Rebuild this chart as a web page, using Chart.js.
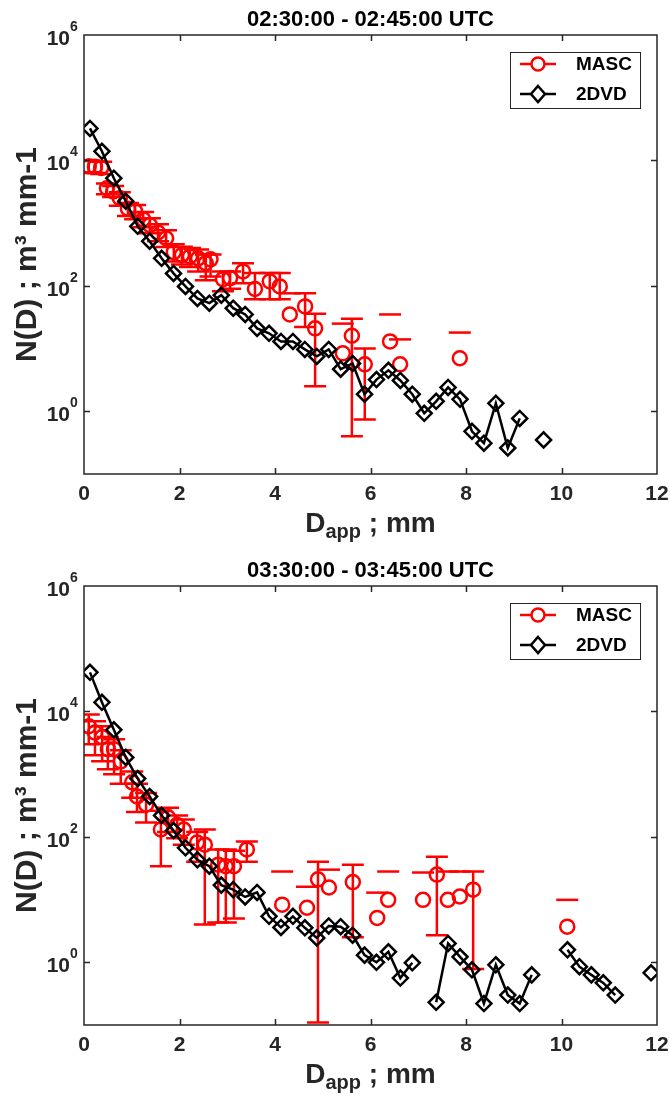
<!DOCTYPE html>
<html><head><meta charset="utf-8">
<script src="https://cdn.jsdelivr.net/npm/chart.js@4/dist/chart.umd.min.js"></script>
<style>
body{margin:0;background:#fff;width:670px;height:1102px;overflow:hidden;position:relative}
.w{position:absolute;left:0;width:670px;height:551px}
canvas{display:block}
</style>
</head><body>
<div class="w" style="top:0"><canvas id="c1" width="670" height="551"></canvas></div>
<div class="w" style="top:551px"><canvas id="c2" width="670" height="551"></canvas></div>
<script>
// ---- data ----
const titles = ['02:30:00 - 02:45:00 UTC', '03:30:00 - 03:45:00 UTC'];
const xTicks = [0, 2, 4, 6, 8, 10, 12];
const yTickVals = [1, 100, 10000, 1000000];
const yTickExp = ['0', '2', '4', '6'];
const seriesNames = ['MASC', '2DVD'];

// 2DVD bin centres (mm)
const dvdD = [0.125,0.375,0.625,0.875,1.125,1.375,1.625,1.875,2.125,2.375,2.625,2.875,3.125,3.375,3.625,3.875,
  4.125,4.375,4.625,4.875,5.125,5.375,5.625,5.875,6.125,6.375,6.625,6.875,7.125,7.375,7.625,7.875,
  8.125,8.375,8.625,8.875,9.125,9.375,9.625,9.875,10.125,10.375,10.625,10.875,11.125,11.375,11.625,11.875];

// panel 1: 2DVD
const dvd1N = [32400,14000,5200,2240,890,515,275,158,98,63,53,71,44,35,21,17.5,13,13,9.7,7.5,9.7,4.7,5.8,1.87,
  3.2,4.5,3.1,1.87,0.93,1.44,2.4,1.55,0.48,0.31,1.34,0.26,0.77,null,0.35];
// panel 1: MASC
const masc1D  = [0.10,0.23,0.36,0.48,0.61,0.75,0.92,1.07,1.24,1.38,1.55,1.72,1.88,2.05,2.22,2.39,2.55,2.65,2.91,3.06,3.33,3.58,3.89,4.10,4.31,4.63,4.84,5.42,5.61,5.88,6.41,6.62,7.87];
const masc1N  = [8100,7900,7600,3600,3200,2500,1700,1550,1150,930,710,575,345,310,295,275,230,265,128,133,170,89,118,98,35,47,21,8.4,16,5.6,13,5.6,7];
const masc1Hi = [10000,9800,9500,4300,3900,3100,2100,1950,1500,1200,960,770,460,420,400,380,315,315,170,170,230,160,160,160,76,76,36,25,30,10,35,14,18];
const masc1Lo = [6500,6300,6100,2900,2600,1900,1300,1150,860,690,515,415,245,220,200,170,123,141,82,90,110,61,61,61,null,22,2.5,null,0.4,0.74,null,null,null];

// panel 2: 2DVD
const dvd2N = [42000,14000,5100,1850,850,440,220,126,67,43,34,17,14.4,11,13,5.4,3.6,5.4,3.55,2.45,3.8,3.7,2.7,1.3,
  1.0,1.47,0.56,0.98,null,0.23,2.0,1.22,0.76,0.22,0.91,0.30,0.22,0.63,null,null,1.58,0.85,0.63,0.47,0.30,null,null,0.68];
// panel 2: MASC
const masc2D  = [0.10,0.23,0.38,0.50,0.63,0.77,1.01,1.11,1.30,1.61,1.76,1.95,2.09,2.37,2.53,2.81,2.97,3.14,3.41,4.15,4.67,4.90,5.13,5.63,6.14,6.37,7.10,7.39,7.62,7.87,8.15,10.12];
const masc2N  = [5800,4600,3900,2500,2500,1600,740,440,325,131,205,155,131,81,75,36,34,34,63,8.3,7.4,21,15.6,19,5.1,9.9,9.9,25,9.9,11.2,14.4,3.7];
const masc2Hi = [8900,7000,5800,3900,3600,2400,1100,700,500,260,290,220,190,120,131,63,63,60,84,28,16,40,30,36,12.9,28,27,48,28,28,28,9.9];
const masc2Lo = [3000,2000,1600,1200,1000,700,420,250,170,34,120,95,75,40,4.0,4.3,4.3,5,40,null,null,0.11,null,2.5,null,null,null,2.7,null,null,0.78,null];

// ---- drawing ----
const FONT = "'Liberation Sans', Arial, Helvetica, sans-serif";
const AX = '#262626';
Chart.defaults.font.family = FONT;
Chart.defaults.color = AX;

function makeChart(id, title, dvdN, mD, mN, mHi, mLo) {
  const plugin = {
    id: 'matlab_' + id,
    beforeDatasetsDraw(chart) {
      const ctx = chart.ctx, a = chart.chartArea, xs = chart.scales.x, ys = chart.scales.y;
      ctx.save();
      ctx.beginPath(); ctx.rect(a.left, a.top - 1, a.right - a.left, a.bottom - a.top + 1); ctx.clip();
      ctx.strokeStyle = '#ff0000'; ctx.lineWidth = 2.5; ctx.lineCap = 'butt';
      const cw = 11;
      for (let i = 0; i < mD.length; i++) {
        const px = xs.getPixelForValue(mD[i]);
        const yh = ys.getPixelForValue(mHi[i]);
        ctx.beginPath();
        ctx.moveTo(px - cw, yh); ctx.lineTo(px + cw, yh);
        if (mLo[i] !== null) {
          const yl = ys.getPixelForValue(mLo[i]);
          ctx.moveTo(px, yh); ctx.lineTo(px, yl);
          ctx.moveTo(px - cw, yl); ctx.lineTo(px + cw, yl);
        }
        ctx.stroke();
      }
      ctx.restore();
    },
    afterDraw(chart) {
      const ctx = chart.ctx, a = chart.chartArea, xs = chart.scales.x, ys = chart.scales.y;
      ctx.save();
      // box
      ctx.strokeStyle = AX; ctx.lineWidth = 1.5;
      ctx.strokeRect(a.left, a.top, a.right - a.left, a.bottom - a.top);
      // inward ticks
      ctx.beginPath();
      const tl = 6;
      xTicks.forEach(v => {
        if (v === 0 || v === 12) return;
        const px = Math.round(xs.getPixelForValue(v)) + 0.5;
        ctx.moveTo(px, a.bottom); ctx.lineTo(px, a.bottom - tl);
        ctx.moveTo(px, a.top); ctx.lineTo(px, a.top + tl);
      });
      yTickVals.forEach(v => {
        if (v === 1000000) return;
        const py = Math.round(ys.getPixelForValue(v)) + 0.5;
        ctx.moveTo(a.left, py); ctx.lineTo(a.left + tl, py);
        ctx.moveTo(a.right, py); ctx.lineTo(a.right - tl, py);
      });
      ctx.stroke();
      // y tick labels 10^n
      ctx.fillStyle = AX;
      yTickVals.forEach((v, i) => {
        const py = ys.getPixelForValue(v);
        ctx.font = 'bold 21px ' + FONT; ctx.textAlign = 'right'; ctx.textBaseline = 'middle';
        ctx.fillText('10', 70, py + 4);
        ctx.font = 'bold 14px ' + FONT; ctx.textAlign = 'left';
        ctx.fillText(yTickExp[i], 70, py - 8);
      });
      // title
      const cx = (a.left + a.right) / 2;
      ctx.fillStyle = '#000';
      ctx.font = 'bold 22px ' + FONT;
      ctx.textAlign = 'center'; ctx.textBaseline = 'alphabetic';
      ctx.fillText(title, cx, 26);
      // x label: D_app ; mm
      ctx.fillStyle = AX;
      const big = 'bold 28px ' + FONT, small = 'bold 20px ' + FONT;
      ctx.font = big; const wD = ctx.measureText('D').width; const wR = ctx.measureText(' ; mm').width;
      ctx.font = small; const wS = ctx.measureText('app').width;
      let x0 = cx - (wD + wS + wR) / 2; const by = 532;
      ctx.textAlign = 'left';
      ctx.font = big; ctx.fillText('D', x0, by);
      ctx.font = small; ctx.fillText('app', x0 + wD, by + 6);
      ctx.font = big; ctx.fillText(' ; mm', x0 + wD + wS, by);
      // legend
      const L = 510, T = 52, R = 640, B = 108;
      ctx.fillStyle = '#fff'; ctx.fillRect(L, T, R - L, B - T);
      ctx.strokeStyle = AX; ctx.lineWidth = 1; ctx.strokeRect(L + 0.5, T + 0.5, R - L, B - T);
      const rows = [{y: 64, c: '#ff0000', name: seriesNames[0], m: 'circle'}, {y: 94, c: '#000', name: seriesNames[1], m: 'diamond'}];
      rows.forEach(r => {
        ctx.strokeStyle = r.c; ctx.lineWidth = 2.5;
        ctx.beginPath(); ctx.moveTo(520, r.y); ctx.lineTo(556, r.y); ctx.stroke();
        const mx = 538;
        ctx.beginPath();
        if (r.m === 'circle') { ctx.fillStyle = '#fff'; ctx.arc(mx, r.y, 6.5, 0, Math.PI * 2); ctx.fill(); ctx.stroke(); }
        else { ctx.fillStyle = '#fff'; ctx.moveTo(mx, r.y - 8); ctx.lineTo(mx + 7, r.y); ctx.lineTo(mx, r.y + 8); ctx.lineTo(mx - 7, r.y); ctx.closePath(); ctx.fill(); ctx.stroke(); }
        ctx.fillStyle = '#000'; ctx.font = 'bold 19px ' + FONT; ctx.textAlign = 'left'; ctx.textBaseline = 'middle';
        ctx.fillText(r.name, 576, r.y + 1);
      });
      ctx.restore();
    }
  };
  return new Chart(document.getElementById(id), {
    type: 'scatter',
    data: {
      datasets: [
        { label: seriesNames[1], data: dvdN.map((v, i) => ({x: dvdD[i], y: v})), showLine: true, spanGaps: false,
          borderColor: '#000', borderWidth: 2.5, pointStyle: 'rectRot', pointRadius: 7.5, pointBorderWidth: 2.5,
          pointBorderColor: '#000', pointBackgroundColor: 'rgba(0,0,0,0)' },
        { label: seriesNames[0], data: mD.map((d, i) => ({x: d, y: mN[i]})), showLine: false,
          pointStyle: 'circle', pointRadius: 7, pointBorderWidth: 2.5, pointBorderColor: '#ff0000',
          pointBackgroundColor: 'rgba(0,0,0,0)' }
      ]
    },
    options: {
      responsive: false, animation: false, devicePixelRatio: 1,
      layout: { padding: { left: 0, right: 13, top: 35, bottom: 0 } },
      plugins: { legend: { display: false }, tooltip: { enabled: false }, title: { display: false } },
      scales: {
        x: { type: 'linear', min: 0, max: 12,
          afterBuildTicks(s) { s.ticks = xTicks.map(v => ({value: v})); },
          ticks: { color: AX, font: { size: 21, weight: 'bold' }, padding: 8, maxRotation: 0 },
          grid: { display: false, drawTicks: false }, border: { display: false },
          afterFit(s) { s.height = 77; s.paddingLeft = 0; s.paddingRight = 0; } },
        y: { type: 'logarithmic', min: 0.1, max: 1000000,
          afterBuildTicks(s) { s.ticks = yTickVals.map(v => ({value: v})); },
          ticks: { display: false },
          grid: { display: false, drawTicks: false }, border: { display: false },
          title: { display: true, text: 'N(D) ; m\u00B3 mm-1', color: AX, font: { size: 30, weight: 'bold' }, padding: { top: 10, bottom: 0 } },
          afterFit(s) { s.width = 84; s.paddingTop = 0; s.paddingBottom = 0; } }
      }
    },
    plugins: [plugin]
  });
}
makeChart('c1', titles[0], dvd1N, masc1D, masc1N, masc1Hi, masc1Lo);
makeChart('c2', titles[1], dvd2N, masc2D, masc2N, masc2Hi, masc2Lo);
</script>
</body></html>
